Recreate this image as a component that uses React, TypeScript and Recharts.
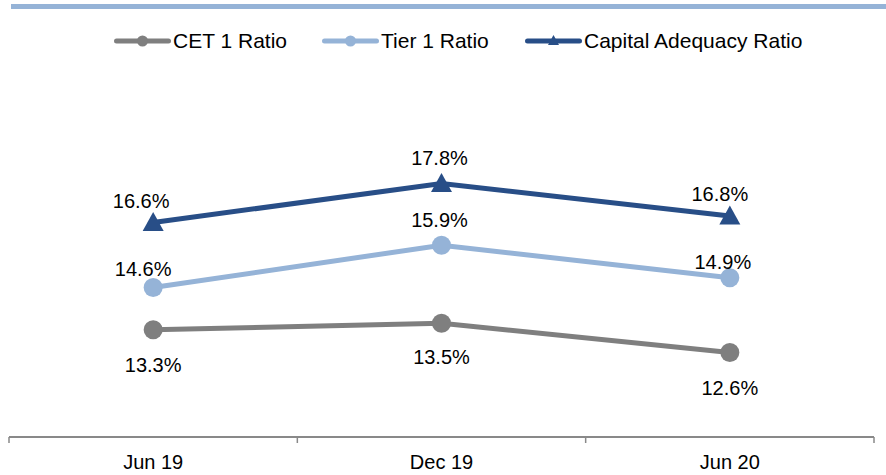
import React from "react"
import { LineChart, Line, XAxis, YAxis, LabelList } from "recharts"

const periods = ["Jun 19", "Dec 19", "Jun 20"]
const cet1 = [13.3, 13.5, 12.6]
const tier1 = [14.6, 15.9, 14.9]
const capitalAdequacy = [16.6, 17.8, 16.8]

const data = periods.map((p, i) => ({
  period: p,
  cet1: cet1[i],
  tier1: tier1[i],
  car: capitalAdequacy[i],
}))

const W = 886
const H = 475
const M = { top: 112, right: 12, left: 9, bottom: 8 }
const PLOT_W = W - M.left - M.right
const HALF_BAND = PLOT_W / periods.length / 2
const TICK_MARGIN = 18
const FONT = "'Liberation Sans', Arial, Helvetica, sans-serif"

const C_CET = "#7f7f7f"
const C_TIER = "#95b3d7"
const C_CAR = "#284e87"

// label nudges per point (like the Excel placement)
const carLabelPos = [[-12, -22], [-2, -26], [-10, -22]]
const tierLabelPos = [[-10, -19], [-2, -25], [-7, -16]]
const cetLabelPos = [[0, 35], [0, 34], [0, 35]]

function makeLabel(pos: number[][]) {
  return (props: any) => {
    const { x, y, value, index } = props
    const [dx, dy] = pos[index] || [0, 0]
    return (
      <text x={x + dx} y={y + dy + 7} textAnchor="middle" fontSize={20} fontFamily={FONT} fill="#000">
        {Number(value).toFixed(1)}%
      </text>
    )
  }
}

function Triangle(props: any) {
  const { cx, cy, index } = props
  if (cx == null || cy == null) return null
  return (
    <path
      key={`tri-${index}`}
      d={`M${cx},${cy - 10.5} L${cx + 10.5},${cy + 8.5} L${cx - 10.5},${cy + 8.5} Z`}
      fill={C_CAR}
    />
  )
}

function XTick(props: any) {
  const { x, y, payload, index } = props
  const axisY = y - TICK_MARGIN
  return (
    <g>
      <line x1={x - HALF_BAND} x2={x - HALF_BAND} y1={axisY} y2={axisY + 6} stroke="#898989" strokeWidth={1.5} />
      {index === periods.length - 1 && (
        <line x1={x + HALF_BAND} x2={x + HALF_BAND} y1={axisY} y2={axisY + 6} stroke="#898989" strokeWidth={1.5} />
      )}
      <text x={x} y={y} dy="0.71em" textAnchor="middle" fontSize={20} fontFamily={FONT} fill="#000">
        {payload.value}
      </text>
    </g>
  )
}

function LegendIcon({ color, marker }: { color: string; marker: "circle" | "triangle" }) {
  return (
    <svg width={57} height={14} style={{ display: "block" }}>
      <line x1={2.5} x2={54.5} y1={7} y2={7} stroke={color} strokeWidth={5} strokeLinecap="round" />
      {marker === "circle" ? (
        <circle cx={28.5} cy={7} r={5.5} fill={color} />
      ) : (
        <path d="M28.5,1 L34,11 L23,11 Z" fill={color} />
      )}
    </svg>
  )
}

const legendItems: { name: string; color: string; marker: "circle" | "triangle"; left: number }[] = [
  { name: "CET 1 Ratio", color: C_CET, marker: "circle", left: 114 },
  { name: "Tier 1 Ratio", color: C_TIER, marker: "circle", left: 322 },
  { name: "Capital Adequacy Ratio", color: C_CAR, marker: "triangle", left: 525 },
]

export default function App() {
  return (
    <div style={{ position: "fixed", left: 0, top: 0, width: W, height: H, background: "#fff", fontFamily: FONT }}>
      {/* top rule */}
      <div style={{ position: "absolute", left: 11, top: 3.5, width: W - 11, height: 5, background: "#95b3d7" }} />

      {/* legend */}
      {legendItems.map((it) => (
        <div
          key={it.name}
          style={{ position: "absolute", left: it.left, top: 29, display: "flex", alignItems: "center", gap: 2 }}
        >
          <LegendIcon color={it.color} marker={it.marker} />
          <span style={{ fontSize: 21, lineHeight: "24px", color: "#000", whiteSpace: "nowrap" }}>{it.name}</span>
        </div>
      ))}

      <div style={{ position: "absolute", left: 0, top: 0 }}>
        <LineChart width={W} height={H} data={data} margin={M}>
          <XAxis
            dataKey="period"
            height={30}
            padding={{ left: HALF_BAND, right: HALF_BAND }}
            axisLine={{ stroke: "#898989", strokeWidth: 2 }}
            tickLine={false}
            tickSize={0}
            tickMargin={TICK_MARGIN}
            tick={<XTick />}
            interval={0}
          />
          <YAxis hide domain={[10, 20]} />
          <Line
            dataKey="cet1"
            stroke={C_CET}
            strokeWidth={5}
            dot={{ r: 9.5, fill: C_CET, stroke: "none" }}
            isAnimationActive={false}
          >
            <LabelList dataKey="cet1" content={makeLabel(cetLabelPos)} />
          </Line>
          <Line
            dataKey="tier1"
            stroke={C_TIER}
            strokeWidth={5}
            dot={{ r: 9.5, fill: C_TIER, stroke: "none" }}
            isAnimationActive={false}
          >
            <LabelList dataKey="tier1" content={makeLabel(tierLabelPos)} />
          </Line>
          <Line
            dataKey="car"
            stroke={C_CAR}
            strokeWidth={5}
            dot={<Triangle />}
            isAnimationActive={false}
          >
            <LabelList dataKey="car" content={makeLabel(carLabelPos)} />
          </Line>
        </LineChart>
      </div>
    </div>
  )
}
